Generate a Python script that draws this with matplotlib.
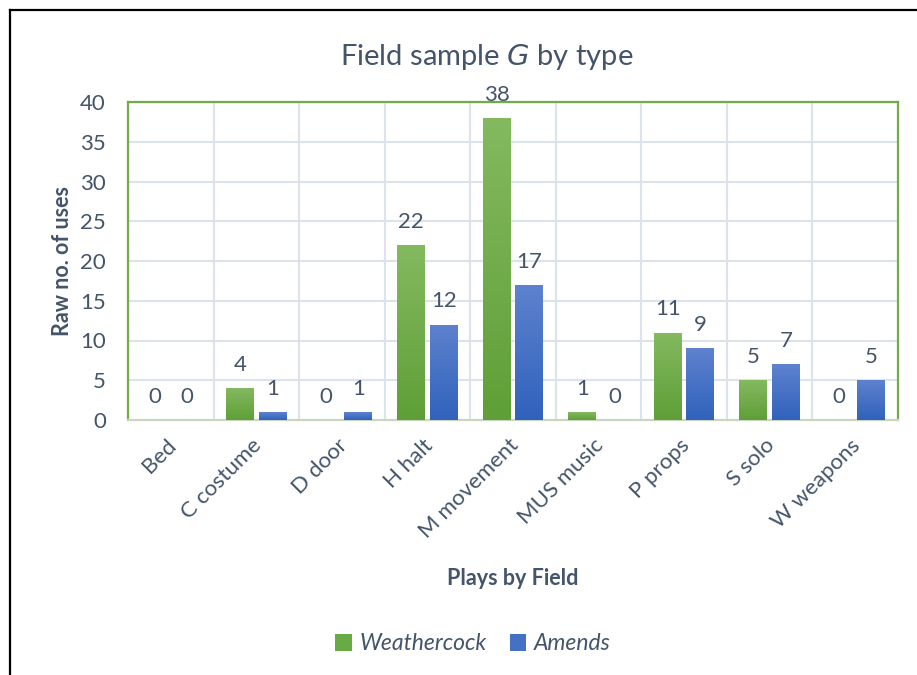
import numpy as np
import matplotlib
matplotlib.use("Agg")
import matplotlib.pyplot as plt
import matplotlib.transforms as mtransforms
from matplotlib.colors import LinearSegmentedColormap
from matplotlib.lines import Line2D
from matplotlib.patches import Patch

categories = ["Bed", "C costume", "D door", "H halt", "M movement",
              "MUS music", "P props", "S solo", "W weapons"]
weathercock = [0, 4, 0, 22, 38, 1, 11, 5, 0]
amends = [0, 1, 1, 12, 17, 0, 9, 7, 5]
series_names = ["Weathercock", "Amends"]
y_ticks = [0, 5, 10, 15, 20, 25, 30, 35, 40]

TEXT = "#44546A"
GRID = "#DDE3EA"
GREEN_TOP, GREEN_BOT = "#84B960", "#5F9F37"
BLUE_TOP, BLUE_BOT = "#5E82CE", "#3062BC"

plt.rcParams["font.family"] = ["Lato", "DejaVu Sans"]

fig = plt.figure(figsize=(9.17, 6.75), dpi=100)
ax = fig.add_axes([128 / 917, 1 - 420 / 675, 770 / 917, 318 / 675])

x = np.arange(len(categories))
width = 0.327
offset = 0.19


def gradient_bars(values, pos, top, bot):
    bars = ax.bar(pos, values, width, color=bot, zorder=3)
    cmap = LinearSegmentedColormap.from_list("g", [bot, top])
    grad = np.linspace(0, 1, 256).reshape(-1, 1)
    for b, v in zip(bars, values):
        if v <= 0:
            continue
        x0, w = b.get_x(), b.get_width()
        im = ax.imshow(grad, cmap=cmap, aspect="auto", origin="lower",
                       extent=[x0, x0 + w, 0, v], zorder=4)
        im.set_clip_path(b)
    for xi, v in zip(pos, values):
        ax.annotate(str(v), (xi, v), xytext=(0, 9.5), textcoords="offset points",
                    ha="center", va="bottom", fontsize=16, color=TEXT, zorder=5)
    return bars


gradient_bars(weathercock, x - offset, GREEN_TOP, GREEN_BOT)
gradient_bars(amends, x + offset, BLUE_TOP, BLUE_BOT)

ax.set_xlim(-0.5, len(categories) - 0.5)
ax.set_ylim(0, 40)
ax.set_yticks(y_ticks)
ax.set_yticklabels([str(t) for t in y_ticks])
ax.tick_params(axis="y", length=0, pad=16, labelsize=16, labelcolor=TEXT)
ax.set_xticks(x)
ax.set_xticklabels(categories, rotation=45, ha="right", va="top",
                   rotation_mode="anchor")
ax.tick_params(axis="x", length=0, pad=11, labelsize=16, labelcolor=TEXT)
shift = mtransforms.ScaledTranslation(-5 / 100, 0, fig.dpi_scale_trans)
for lbl in ax.get_xticklabels():
    lbl.set_transform(lbl.get_transform() + shift)

# horizontal gridlines and category separators
for t in y_ticks[1:]:
    ax.axhline(t, color=GRID, lw=1.5, zorder=1)
for b in np.arange(0.5, len(categories) - 0.5, 1):
    ax.axvline(b, color=GRID, lw=1.5, zorder=1)

for side in ["left", "top", "right"]:
    ax.spines[side].set_color("#70AD47")
    ax.spines[side].set_linewidth(1.6)
ax.spines["bottom"].set_color("#C9D6C0")
ax.spines["bottom"].set_linewidth(1.6)

ax.set_ylabel("Raw no. of uses", fontsize=15.5, fontweight="bold", color=TEXT,
              labelpad=5)
ax.set_xlabel("Plays by Field", fontsize=15.5, fontweight="bold", color=TEXT)
ax.xaxis.set_label_coords(0.5, -0.465)

fig.text(0.531, 1 - 57 / 675, "Field sample $\\mathit{G}$ by type", ha="center",
         va="center", fontsize=21, color=TEXT)

handles = [Patch(facecolor="#6AAA44", edgecolor="none"),
           Patch(facecolor="#4571C4", edgecolor="none")]
leg = fig.legend(handles, series_names, loc="center", ncol=2,
                 bbox_to_anchor=(473 / 917, 1 - 644 / 675), frameon=False,
                 handlelength=0.7, handleheight=0.7, handletextpad=0.35,
                 columnspacing=1.0, prop={"size": 16.5, "style": "italic"})
for t in leg.get_texts():
    t.set_color(TEXT)

# outer frame
fig.add_artist(Line2D([10 / 917, 1.0], [1 - 10 / 675, 1 - 10 / 675],
                      transform=fig.transFigure, color="black", lw=1.6))
fig.add_artist(Line2D([10 / 917, 10 / 917], [0.0, 1 - 10 / 675],
                      transform=fig.transFigure, color="black", lw=1.6))

fig.savefig("out.png", dpi=100)
